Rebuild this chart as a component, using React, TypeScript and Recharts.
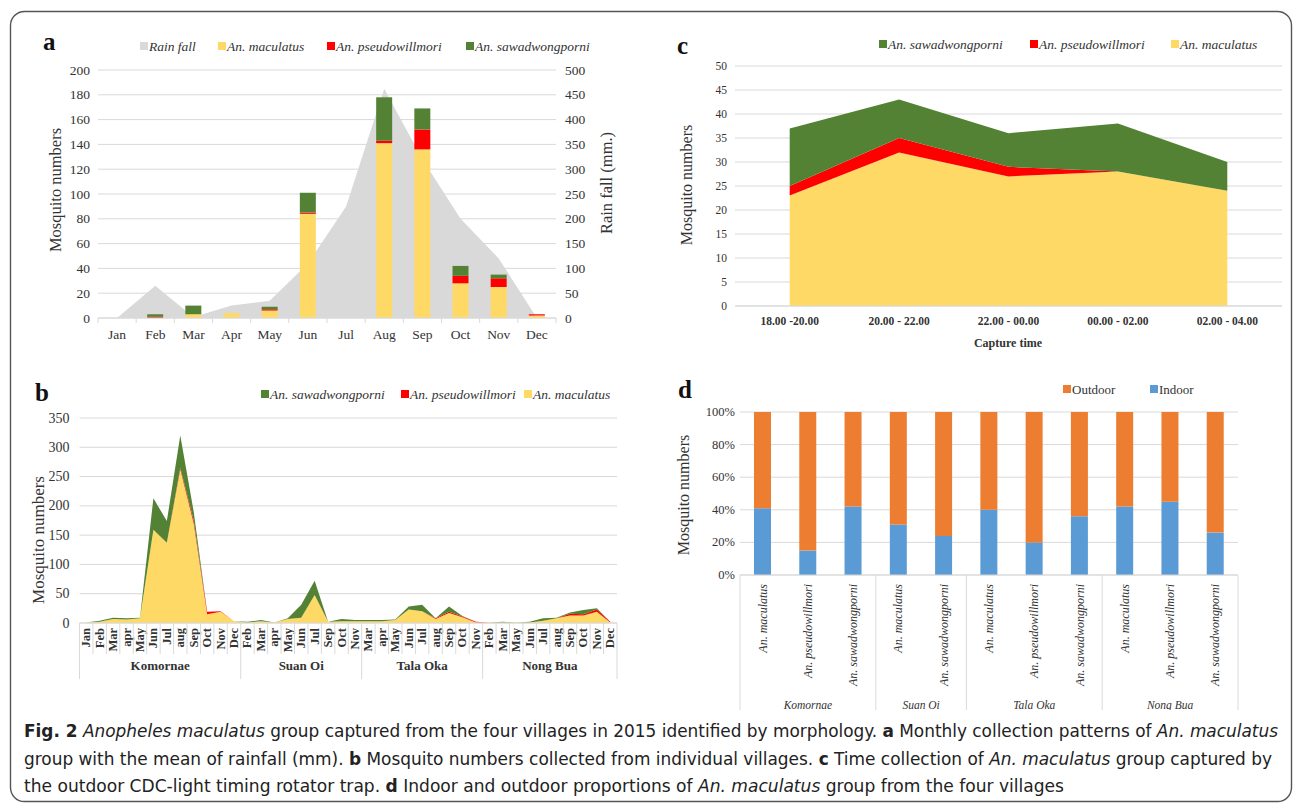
import React from 'react';
import { Area, AreaChart, Bar, BarChart, CartesianGrid, ComposedChart, XAxis, YAxis } from 'recharts';

const SERIF = '"Liberation Serif", "Times New Roman", serif';
const CAPTION_FONT = '"Liberation Sans Narrow", "DejaVu Sans Condensed", "Liberation Sans", sans-serif';

const YELLOW = '#FFD966';
const RED = '#FF0000';
const GREEN = '#548235';
const RAIN_GRAY = '#D9D9D9';
const ORANGE = '#ED7D31';
const BLUE = '#5B9BD5';
const GRID = '#D9D9D9';
const TEXT = '#333333';

// ---- panel a: monthly totals + rainfall
const MONTHS = ['Jan', 'Feb', 'Mar', 'Apr', 'May', 'Jun', 'Jul', 'Aug', 'Sep', 'Oct', 'Nov', 'Dec'];
const RAINFALL = [0, 65, 2, 25, 35, 110, 225, 462, 320, 200, 120, 0];
const MAC_MONTH = [0, 0, 3, 4, 6, 84, 0, 141, 136, 28, 25, 2];
const PSE_MONTH = [0, 1, 0, 0, 1, 1, 0, 2, 16, 6, 7, 1];
const SAW_MONTH = [0, 2, 7, 0, 2, 16, 0, 35, 17, 8, 3, 0];

// ---- panel b: per village
const VILLAGES = ['Komornae', 'Suan Oi', 'Tala Oka', 'Nong Bua'];
const VILLAGE_MONTHS = [
  ['Jan', 'Feb', 'Mar', 'apr', 'May', 'Jun', 'Jul', 'aug', 'Sep', 'Oct', 'Nov', 'Dec'],
  ['Feb', 'Mar', 'apr', 'May', 'Jun', 'Jul', 'Sep', 'Oct', 'Nov'],
  ['Mar', 'apr', 'May', 'Jun', 'Jul', 'aug', 'Sep', 'Oct', 'Nov'],
  ['Feb', 'Mar', 'May', 'Jun', 'Jul', 'aug', 'Sep', 'Oct', 'Nov', 'Dec'],
];
const MAC_VILLAGE = [
  1, 2, 7, 6, 8, 159, 137, 262, 170, 15, 19, 3,
  1, 3, 1, 7, 9, 48, 2, 3, 3,
  3, 3, 5, 23, 20, 7, 17, 10, 1,
  1, 1, 1, 1, 4, 8, 13, 13, 19, 1,
];
const PSE_VILLAGE = [
  0, 0, 0, 0, 0, 0, 0, 3, 5, 4, 1, 0,
  0, 0, 0, 0, 0, 0, 0, 0, 0,
  0, 0, 0, 0, 0, 1, 2, 1, 1,
  0, 0, 0, 0, 0, 0, 3, 2, 4, 1,
];
const SAW_VILLAGE = [
  0, 2, 2, 2, 1, 54, 37, 55, 15, 0, 0, 0,
  1, 2, 0, 1, 22, 24, 0, 4, 2,
  2, 2, 1, 5, 11, 0, 9, 1, 0,
  0, 1, 0, 1, 4, 1, 2, 7, 2, 0,
];

// ---- panel c: capture time
const TIMES = ['18.00 -20.00', '20.00 - 22.00', '22.00 - 00.00', '00.00 - 02.00', '02.00  - 04.00'];
const MAC_TIME = [23, 32, 27, 28, 24];
const PSE_TIME = [2, 3, 2, 0, 0];
const SAW_TIME = [12, 8, 7, 10, 6];

// ---- panel d: indoor / outdoor
const SPECIES_BY_VILLAGE = [
  ['An. maculatus', 'An. pseudowillmori', 'An. sawadwongporni'],
  ['An. maculatus', 'An. sawadwongporni'],
  ['An. maculatus', 'An. pseudowillmori', 'An. sawadwongporni'],
  ['An. maculatus', 'An. pseudowillmori', 'An. sawadwongporni'],
];
const INDOOR = [41, 15, 42, 31, 24, 40, 20, 36, 42, 45, 26];
const OUTDOOR = [59, 85, 58, 69, 76, 60, 80, 64, 58, 55, 74];

// ---- layout
const A = { left: 20, top: 30, w: 620, h: 330, plotL: 98, plotR: 556 };
const B = { left: 20, top: 380, w: 620, h: 330, plotL: 79.5, plotR: 617 };
const C = { left: 650, top: 30, w: 640, h: 330, plotL: 735, plotR: 1282 };
const D = { left: 650, top: 380, w: 640, h: 330, plotL: 740, plotR: 1238 };
const BW_A = (A.plotR - A.plotL) / MONTHS.length;
const B_LABELS = VILLAGE_MONTHS.flat();
const BW_B = (B.plotR - B.plotL) / B_LABELS.length;
const BW_C = (C.plotR - C.plotL) / TIMES.length;
const D_LABELS = SPECIES_BY_VILLAGE.flat();
const BW_D = (D.plotR - D.plotL) / D_LABELS.length;

const monthlyData = MONTHS.map((m, i) => ({
  month: m, rain: RAINFALL[i], mac: MAC_MONTH[i], pse: PSE_MONTH[i], saw: SAW_MONTH[i],
}));
const villageData = B_LABELS.map((m, i) => ({
  key: `${i}-${m}`, mac: MAC_VILLAGE[i], pse: PSE_VILLAGE[i], saw: SAW_VILLAGE[i],
}));
const timeData = TIMES.map((t, i) => ({ time: t, mac: MAC_TIME[i], pse: PSE_TIME[i], saw: SAW_TIME[i] }));
const placeData = D_LABELS.map((s, i) => ({ key: `${i}-${s}`, indoor: INDOOR[i], outdoor: OUTDOOR[i] }));

function groupStarts(groups: string[][]) {
  const starts: number[] = [];
  let n = 0;
  groups.forEach((g) => { starts.push(n); n += g.length; });
  return starts;
}
const B_STARTS = groupStarts(VILLAGE_MONTHS);
const D_STARTS = groupStarts(SPECIES_BY_VILLAGE);

const makeYTick = (size: number, anchor: 'start' | 'end', suffix = '') => (props: any) => (
  <text x={props.x} y={props.y} textAnchor={anchor} dominantBaseline="central"
    fontFamily={SERIF} fontSize={size} fill={TEXT}>{`${props.payload.value}${suffix}`}</text>
);
const YTickA = makeYTick(13.5, 'end');
const YTickARight = makeYTick(13.5, 'start');
const YTickB = makeYTick(14, 'end');
const YTickC = makeYTick(11.5, 'end');
const YTickD = makeYTick(12.5, 'end', '%');

const MonthTick = (props: any) => {
  const { x, y, payload, index } = props;
  const h = BW_A / 2;
  return (
    <g>
      <line x1={x - h} x2={x - h} y1={y} y2={y + 5} stroke={GRID} />
      {index === MONTHS.length - 1 && <line x1={x + h} x2={x + h} y1={y} y2={y + 5} stroke={GRID} />}
      <text x={x} y={y + 21} textAnchor="middle" fontFamily={SERIF} fontSize={13.5} fill={TEXT}>{payload.value}</text>
    </g>
  );
};

const VillageTick = (props: any) => {
  const { x, y, index } = props;
  const h = BW_B / 2;
  const g = B_STARTS.indexOf(index);
  const last = index === B_LABELS.length - 1;
  return (
    <g>
      <line x1={x - h} x2={x - h} y1={y} y2={y + (g >= 0 ? 56 : 31)} stroke={GRID} />
      {last && <line x1={x + h} x2={x + h} y1={y} y2={y + 56} stroke={GRID} />}
      <text x={x} y={y + 5} transform={`rotate(-90 ${x} ${y + 5})`} textAnchor="end" dominantBaseline="central"
        fontFamily={SERIF} fontSize={12.5} fontWeight="bold" fill={TEXT}>{B_LABELS[index]}</text>
      {g >= 0 && (
        <text x={x - h + (VILLAGE_MONTHS[g].length * BW_B) / 2} y={y + 47} textAnchor="middle"
          fontFamily={SERIF} fontSize={13} fontWeight="bold" fill={TEXT}>{VILLAGES[g]}</text>
      )}
    </g>
  );
};

const TimeTick = (props: any) => {
  const { x, y, payload } = props;
  return (
    <text x={x} y={y + 19} textAnchor="middle" fontFamily={SERIF} fontSize={11.5} fontWeight="bold" fill={TEXT}>
      {payload.value}
    </text>
  );
};

const PlaceTick = (props: any) => {
  const { x, y, index } = props;
  const h = BW_D / 2;
  const g = D_STARTS.indexOf(index);
  const last = index === D_LABELS.length - 1;
  return (
    <g>
      {g >= 0 && <line x1={x - h} x2={x - h} y1={y} y2={y + 140} stroke={GRID} />}
      {last && <line x1={x + h} x2={x + h} y1={y} y2={y + 140} stroke={GRID} />}
      <text x={x} y={y + 9} transform={`rotate(-90 ${x} ${y + 9})`} textAnchor="end" dominantBaseline="central"
        fontFamily={SERIF} fontSize={12} fontStyle="italic" fill={TEXT}>{D_LABELS[index]}</text>
      {g >= 0 && (
        <text x={x - h + (SPECIES_BY_VILLAGE[g].length * BW_D) / 2} y={y + 134} textAnchor="middle"
          fontFamily={SERIF} fontSize={11.5} fontStyle="italic" fill={TEXT}>{VILLAGES[g]}</text>
      )}
    </g>
  );
};

function MonthlyChart() {
  return (
    <ComposedChart width={A.w} height={A.h} data={monthlyData}
      margin={{ top: 40, right: A.w - (A.plotR - A.left) - 54, bottom: 12, left: 0 }}>
      <CartesianGrid vertical={false} stroke={GRID} yAxisId="left" />
      <XAxis dataKey="month" interval={0} height={30} tickSize={0} tickMargin={0} tick={<MonthTick />}
        axisLine={{ stroke: GRID }} tickLine={false} />
      <YAxis yAxisId="left" width={A.plotL - A.left} domain={[0, 200]} ticks={[0, 20, 40, 60, 80, 100, 120, 140, 160, 180, 200]}
        axisLine={false} tickLine={false} tickSize={0} tickMargin={8} tick={<YTickA />} />
      <YAxis yAxisId="right" orientation="right" width={54} domain={[0, 500]}
        ticks={[0, 50, 100, 150, 200, 250, 300, 350, 400, 450, 500]}
        axisLine={false} tickLine={false} tickSize={0} tickMargin={9} tick={<YTickARight />} />
      <Area yAxisId="right" type="linear" dataKey="rain" name="Rain fall" stroke="none" fill={RAIN_GRAY} fillOpacity={1} isAnimationActive={false} />
      <Bar yAxisId="left" dataKey="mac" stackId="s" barSize={16} fill={YELLOW} isAnimationActive={false} />
      <Bar yAxisId="left" dataKey="pse" stackId="s" barSize={16} fill={RED} isAnimationActive={false} />
      <Bar yAxisId="left" dataKey="saw" stackId="s" barSize={16} fill={GREEN} isAnimationActive={false} />
    </ComposedChart>
  );
}

function VillageChart() {
  return (
    <AreaChart width={B.w} height={B.h} data={villageData}
      margin={{ top: 38, right: B.w - (B.plotR - B.left), bottom: 42, left: 0 }}>
      <CartesianGrid vertical={false} stroke={GRID} />
      <XAxis dataKey="key" scale="point" padding={{ left: BW_B / 2, right: BW_B / 2 }} interval={0} height={45}
        tickSize={0} tickMargin={0} tick={<VillageTick />} axisLine={{ stroke: GRID }} tickLine={false} />
      <YAxis width={B.plotL - B.left} domain={[0, 350]} ticks={[0, 50, 100, 150, 200, 250, 300, 350]}
        axisLine={false} tickLine={false} tickSize={0} tickMargin={10} tick={<YTickB />} />
      <Area type="linear" dataKey="mac" stackId="s" stroke="none" fill={YELLOW} fillOpacity={1} isAnimationActive={false} />
      <Area type="linear" dataKey="pse" stackId="s" stroke="none" fill={RED} fillOpacity={1} isAnimationActive={false} />
      <Area type="linear" dataKey="saw" stackId="s" stroke="none" fill={GREEN} fillOpacity={1} isAnimationActive={false} />
    </AreaChart>
  );
}

function TimeChart() {
  return (
    <AreaChart width={C.w} height={C.h} data={timeData}
      margin={{ top: 36, right: C.left + C.w - C.plotR, bottom: 24, left: 0 }}>
      <CartesianGrid vertical={false} stroke={GRID} />
      <XAxis dataKey="time" scale="point" padding={{ left: BW_C / 2, right: BW_C / 2 }} interval={0} height={30}
        tickSize={0} tickMargin={0} tick={<TimeTick />} axisLine={{ stroke: GRID }} tickLine={false} />
      <YAxis width={C.plotL - C.left} domain={[0, 50]} ticks={[0, 5, 10, 15, 20, 25, 30, 35, 40, 45, 50]}
        axisLine={false} tickLine={false} tickSize={0} tickMargin={8} tick={<YTickC />} />
      <Area type="linear" dataKey="mac" stackId="s" stroke="none" fill={YELLOW} fillOpacity={1} isAnimationActive={false} />
      <Area type="linear" dataKey="pse" stackId="s" stroke="none" fill={RED} fillOpacity={1} isAnimationActive={false} />
      <Area type="linear" dataKey="saw" stackId="s" stroke="none" fill={GREEN} fillOpacity={1} isAnimationActive={false} />
    </AreaChart>
  );
}

function PlaceChart() {
  return (
    <BarChart width={D.w} height={D.h} data={placeData}
      margin={{ top: 32, right: D.left + D.w - D.plotR, bottom: 35, left: 0 }}>
      <CartesianGrid vertical={false} stroke={GRID} />
      <XAxis dataKey="key" interval={0} height={100} tickSize={0} tickMargin={0} tick={<PlaceTick />}
        axisLine={{ stroke: GRID }} tickLine={false} />
      <YAxis width={D.plotL - D.left} domain={[0, 100]} ticks={[0, 10, 20, 30, 40, 50, 60, 70, 80, 90, 100]}
        axisLine={false} tickLine={false} tickSize={0} tickMargin={5} tick={<YTickD />} />
      <Bar dataKey="indoor" stackId="s" barSize={17} fill={BLUE} isAnimationActive={false} />
      <Bar dataKey="outdoor" stackId="s" barSize={17} fill={ORANGE} isAnimationActive={false} />
    </BarChart>
  );
}

type LegendItem = { label: string; color: string; x: number };
function LegendRow({ items, y, size = 13.5 }: { items: LegendItem[]; y: number; size?: number }) {
  return (
    <g>
      {items.map((it) => (
        <g key={it.label}>
          <rect x={it.x} y={y - 4} width={8} height={8} fill={it.color} />
          <text x={it.x + 9} y={y} dominantBaseline="central" fontFamily={SERIF} fontSize={size}
            fontStyle={it.label.startsWith('An.') || it.label === 'Rain fall' ? 'italic' : 'normal'} fill={TEXT}>{it.label}</text>
        </g>
      ))}
    </g>
  );
}

function VLabel({ x, y, text, size = 16.5 }: { x: number; y: number; text: string; size?: number }) {
  return (
    <text x={x} y={y} transform={`rotate(-90 ${x} ${y})`} textAnchor="middle" dominantBaseline="central"
      fontFamily={SERIF} fontSize={size} fill={TEXT}>{text}</text>
  );
}

function PanelLetter({ x, y, t }: { x: number; y: number; t: string }) {
  return <text x={x} y={y} fontFamily={SERIF} fontSize={25} fontWeight="bold" fill="#111">{t}</text>;
}

export default function App() {
  return (
    <div style={{ position: 'absolute', left: 0, top: 0, width: 1295, height: 808, background: '#fff', overflow: 'hidden' }}>
      <div style={{ position: 'absolute', left: A.left, top: A.top }}><MonthlyChart /></div>
      <div style={{ position: 'absolute', left: B.left, top: B.top }}><VillageChart /></div>
      <div style={{ position: 'absolute', left: C.left, top: C.top }}><TimeChart /></div>
      <div style={{ position: 'absolute', left: D.left, top: D.top }}><PlaceChart /></div>
      <svg width={1295} height={808} style={{ position: 'absolute', left: 0, top: 0, pointerEvents: 'none' }}>
        <rect x={10.5} y={11.5} width={1281} height={790} rx={14} fill="none" stroke="#555" strokeWidth={1.4} />

        <PanelLetter x={43} y={50} t="a" />
        <PanelLetter x={35} y={401} t="b" />
        <PanelLetter x={677} y={54} t="c" />
        <PanelLetter x={678} y={398} t="d" />

        <LegendRow y={46} items={[
          { label: 'Rain fall', color: RAIN_GRAY, x: 140 },
          { label: 'An. maculatus', color: YELLOW, x: 218 },
          { label: 'An. pseudowillmori', color: RED, x: 327 },
          { label: 'An. sawadwongporni', color: GREEN, x: 466 },
        ]} />
        <LegendRow y={394} items={[
          { label: 'An. sawadwongporni', color: GREEN, x: 261 },
          { label: 'An. pseudowillmori', color: RED, x: 401 },
          { label: 'An. maculatus', color: YELLOW, x: 524 },
        ]} />
        <LegendRow y={44} items={[
          { label: 'An. sawadwongporni', color: GREEN, x: 879 },
          { label: 'An. pseudowillmori', color: RED, x: 1030 },
          { label: 'An. maculatus', color: YELLOW, x: 1171 },
        ]} />
        <LegendRow y={389} size={13} items={[
          { label: 'Outdoor', color: ORANGE, x: 1063 },
          { label: 'Indoor', color: BLUE, x: 1150 },
        ]} />

        <VLabel x={55} y={190} text="Mosquito numbers" />
        <VLabel x={606} y={183} text="Rain fall (mm.)" />
        <VLabel x={38} y={540} text="Mosquito numbers" size={17} />
        <VLabel x={686} y={185} text="Mosquito numbers" size={16} />
        <VLabel x={683} y={495} text="Mosquito numbers" size={16} />
        <text x={1008} y={347} textAnchor="middle" fontFamily={SERIF} fontSize={12} fontWeight="bold" fill={TEXT}>Capture time</text>

        <g fontFamily={CAPTION_FONT} fontSize={18} fill="#222">
          <text x={24} y={737} textLength={1254} lengthAdjust="spacingAndGlyphs">
            <tspan fontWeight="bold">Fig. 2</tspan>{'  '}
            <tspan fontStyle="italic">Anopheles maculatus</tspan> group captured from the four villages in 2015 identified by morphology.{' '}
            <tspan fontWeight="bold">a</tspan> Monthly collection patterns of <tspan fontStyle="italic">An. maculatus</tspan>
          </text>
          <text x={24} y={765} textLength={1248} lengthAdjust="spacingAndGlyphs">
            group with the mean of rainfall (mm). <tspan fontWeight="bold">b</tspan> Mosquito numbers collected from individual villages.{' '}
            <tspan fontWeight="bold">c</tspan> Time collection of <tspan fontStyle="italic">An. maculatus</tspan> group captured by
          </text>
          <text x={24} y={792} textLength={1040} lengthAdjust="spacingAndGlyphs">
            the outdoor CDC-light timing rotator trap. <tspan fontWeight="bold">d</tspan> Indoor and outdoor proportions of{' '}
            <tspan fontStyle="italic">An. maculatus</tspan> group from the four villages
          </text>
        </g>
      </svg>
    </div>
  );
}
